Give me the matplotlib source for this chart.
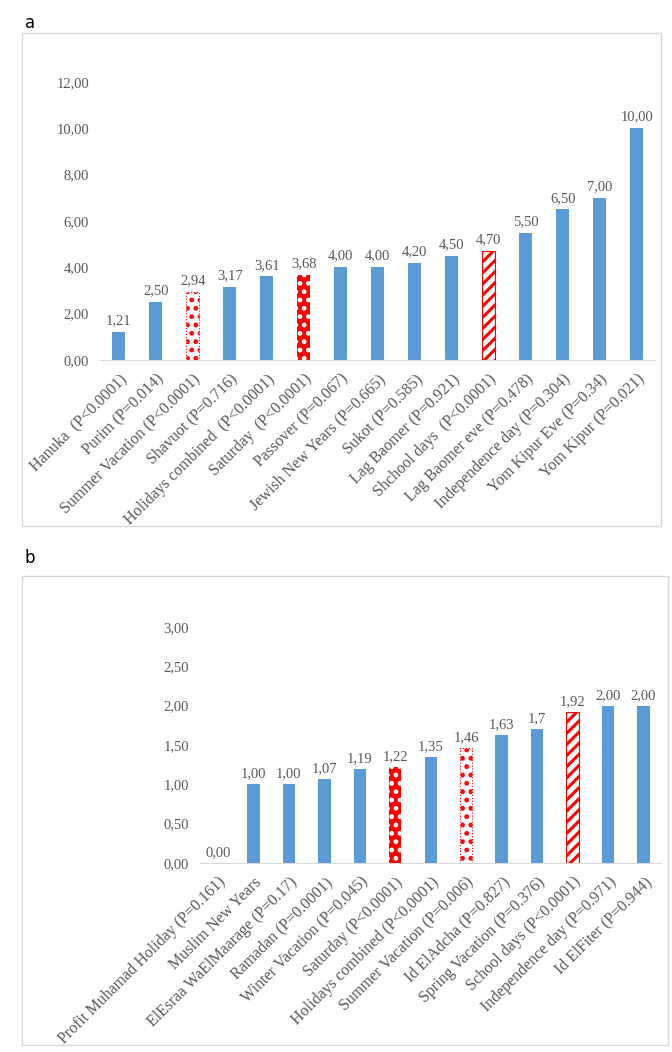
import matplotlib
matplotlib.use('Agg')
import matplotlib.pyplot as plt
from matplotlib.patches import Rectangle

plt.rcParams['font.family'] = ['Liberation Serif', 'DejaVu Serif']
plt.rcParams['hatch.linewidth'] = 2.2

# panel a data (Jewish sample)
cats_a = ['Hanuka  (P<0.0001)', 'Purim (P=0.014)', 'Summer Vacation (P<0.0001)',
          'Shavuot (P=0.716)', 'Holidays combined  (P<0.0001)', 'Saturday  (P<0.0001)',
          'Passover (P=0.067)', 'Jewish New Years (P=0.665)', 'Sukot (P=0.585)',
          'Lag Baomer (P=0.921)', 'Shchool days  (P<0.0001)', 'Lag Baomer eve (P=0.478)',
          'Independence day (P=0.304)', 'Yom Kipur Eve (P=0.34)', 'Yom Kipur (P=0.021)']
vals_a = [1.21, 2.50, 2.94, 3.17, 3.61, 3.68, 4.00, 4.00, 4.20, 4.50, 4.70, 5.50, 6.50, 7.00, 10.00]
lbls_a = ['1,21', '2,50', '2,94', '3,17', '3,61', '3,68', '4,00', '4,00', '4,20', '4,50',
          '4,70', '5,50', '6,50', '7,00', '10,00']
style_a = ['b', 'b', 'sparse', 'b', 'b', 'dense', 'b', 'b', 'b', 'b', 'stripe', 'b', 'b', 'b', 'b']
yticks_a = [0, 2, 4, 6, 8, 10, 12]

# panel b data (Arab sample)
cats_b = ['Profit Muhamad Holiday (P=0.161)', 'Muslim New Years', 'ElEsraa WaElMaarage (P=0.17)',
          'Ramadan (P=0.0001)', 'Winter Vacation (P=0.045)', 'Saturday (P<0.0001)',
          'Holidays combined (P<0.0001)', 'Summer Vacation (P=0.006)', 'Id ElAdcha (P=0.827)',
          'Spring Vacation (P=0.376)', 'School days (P<0.0001)', 'Independence day (P=0.971)',
          'Id ElFiter (P=0.944)']
vals_b = [0.00, 1.00, 1.00, 1.07, 1.19, 1.22, 1.35, 1.46, 1.63, 1.70, 1.92, 2.00, 2.00]
lbls_b = ['0,00', '1,00', '1,00', '1,07', '1,19', '1,22', '1,35', '1,46', '1,63', '1,7',
          '1,92', '2,00', '2,00']
style_b = ['b', 'b', 'b', 'b', 'b', 'dense', 'b', 'sparse', 'b', 'b', 'stripe', 'b', 'b']
yticks_b = [0, 0.5, 1.0, 1.5, 2.0, 2.5, 3.0]

blue = '#5B9BD5'
red = '#FF0000'
grey = '#595959'

fig = plt.figure(figsize=(6.72, 10.52), dpi=100)

# panel frames
fig.add_artist(Rectangle((0.0327, 0.5), 0.951, 0.4686, transform=fig.transFigure,
                         fill=False, edgecolor='#D9D9D9', linewidth=1))
fig.add_artist(Rectangle((0.0327, 0.0067), 0.961, 0.4458, transform=fig.transFigure,
                         fill=False, edgecolor='#D9D9D9', linewidth=1))
fig.text(0.037, 0.987, 'a', family='DejaVu Sans', fontsize=12, va='top')
fig.text(0.037, 0.478, 'b', family='DejaVu Sans', fontsize=12, va='top')


def draw(ax, cats, vals, lbls, styles, yticks, off):
    x = range(len(cats))
    w = 0.35
    for i, (v, s) in enumerate(zip(vals, styles)):
        if s == 'b':
            ax.bar(i, v, width=w, color=blue)
        elif s == 'sparse':
            ax.bar(i, v, width=w, facecolor='white', edgecolor=red, hatch='..',
                   linewidth=0.8, linestyle=':')
        elif s == 'dense':
            ax.bar(i, v, width=w, facecolor=red, edgecolor='white', hatch='..',
                   linewidth=0)
        else:
            ax.bar(i, v, width=w, facecolor='white', edgecolor=red, hatch='///',
                   linewidth=0.8)
        ax.text(i, v + off, lbls[i], ha='center', va='bottom', fontsize=10.5, color=grey)
    ax.set_xlim(-0.5, len(cats) - 0.5)
    ax.set_ylim(0, yticks[-1])
    ax.set_yticks(yticks)
    ax.set_yticklabels([('%.2f' % t).replace('.', ',') for t in yticks])
    ax.set_xticks(list(x))
    ax.set_xticklabels(cats, rotation=45, ha='right', rotation_mode='anchor')
    ax.tick_params(length=0, labelsize=10.5, labelcolor=grey, pad=8)
    ax.tick_params(axis='x', labelsize=11.5)
    for sp in ['top', 'right', 'left']:
        ax.spines[sp].set_visible(False)
    ax.spines['bottom'].set_color('#D9D9D9')


ax1 = fig.add_axes([0.149, 0.6578, 0.826, 0.2643])
draw(ax1, cats_a, vals_a, lbls_a, style_a, yticks_a, 0.2)

ax2 = fig.add_axes([0.298, 0.1797, 0.686, 0.2243])
draw(ax2, cats_b, vals_b, lbls_b, style_b, yticks_b, 0.05)

fig.savefig('out.png', dpi=100)
